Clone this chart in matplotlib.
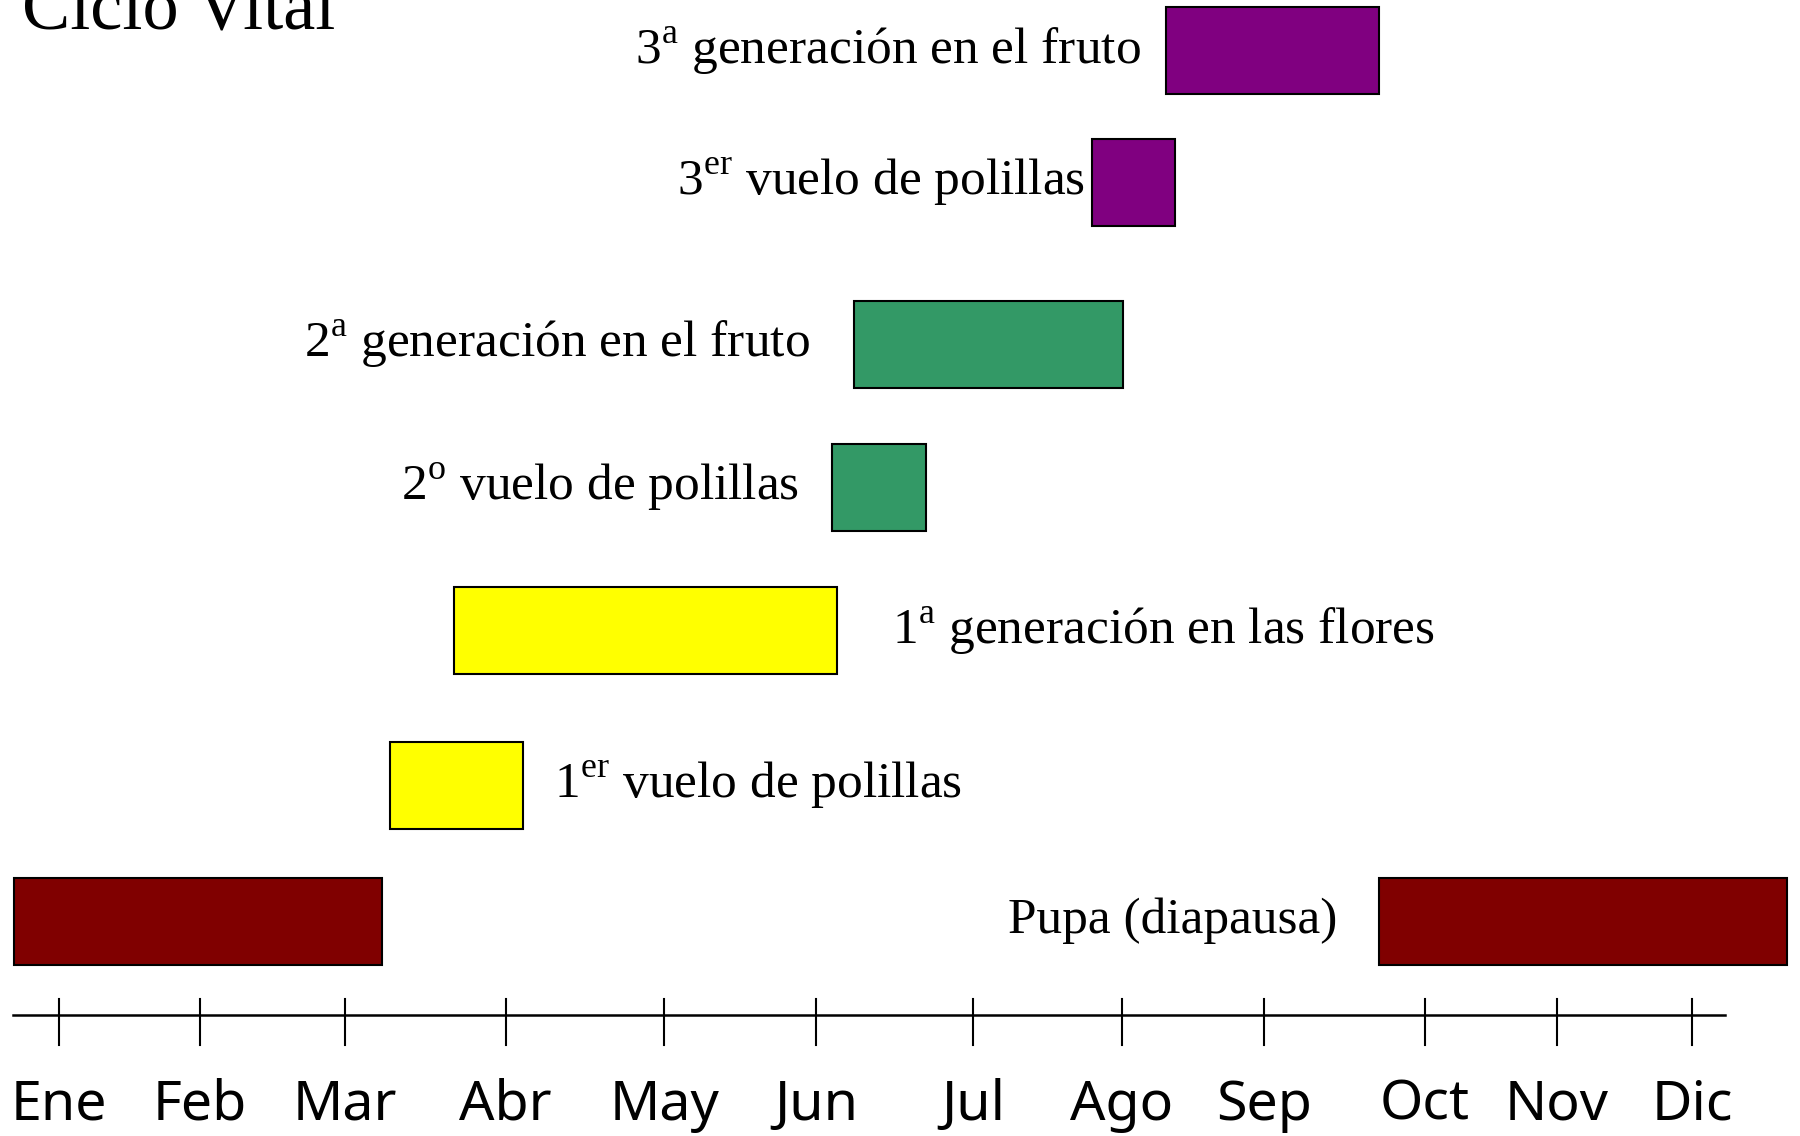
import matplotlib
matplotlib.use('Agg')
import matplotlib.pyplot as plt

# Months on the drawn time axis (position of each tick, in months from Ene)
months = ['Ene', 'Feb', 'Mar', 'Abr', 'May', 'Jun', 'Jul', 'Ago', 'Sep', 'Oct', 'Nov', 'Dic']
month_pos = [0.0, 0.95, 1.93, 3.01, 4.08, 5.10, 6.16, 7.16, 8.12, 9.20, 10.09, 11.0]

# Life-cycle stages (bottom to top), start / end in months
stages = [
    'Pupa (diapausa)',
    r'1$^{\mathrm{er}}$ vuelo de polillas',
    r'1$^{\mathrm{a}}$ generación en las flores',
    r'2$^{\mathrm{o}}$ vuelo de polillas',
    r'2$^{\mathrm{a}}$ generación en el fruto',
    r'3$^{\mathrm{er}}$ vuelo de polillas',
    r'3$^{\mathrm{a}}$ generación en el fruto',
]
stage_start = [-0.30, 2.23, 2.66, 5.21, 5.36, 6.96, 7.46]
stage_end = [2.18, 3.13, 5.24, 5.84, 7.17, 7.52, 8.89]
# pupa also occupies the end of the year
pupa_late = (8.89, 11.64)

colors = ['#800000', '#ffff00', '#ffff00', '#339966', '#339966', '#800080', '#800080']

# layout: vertical place of each row, label side and gap to the bar (px)
row_y = [0, 0.937, 2.0, 2.986, 3.974, 5.09, 5.995]
label_side = ['left', 'right', 'right', 'left', 'left', 'left', 'left']
label_gap = [41, 31, 55, 33, 45, 7, 26]

plt.rcParams['mathtext.fontset'] = 'custom'
plt.rcParams['mathtext.rm'] = 'Liberation Serif'
serif = ['Liberation Serif', 'DejaVu Serif']

fig = plt.figure(figsize=(18, 11.36), dpi=100)
ax = fig.add_axes([0, 0, 1, 1])
ax.set_xlim(-0.394, 11.727)
ax.set_ylim(-1.48, 6.344)
ax.axis('off')

bar_h = 0.6
for i, name in enumerate(stages):
    y = row_y[i]
    ax.barh(y, stage_end[i] - stage_start[i], left=stage_start[i], height=bar_h,
            color=colors[i], edgecolor='black', linewidth=1.5)
    if label_side[i] == 'left':
        # Pupa label sits left of the late-year bar
        x = pupa_late[0] if i == 0 else stage_start[i]
        ax.annotate(name, (x, y), xytext=(-label_gap[i], 0), textcoords='offset pixels',
                    ha='right', va='center', fontsize=37, family=serif)
    else:
        ax.annotate(name, (stage_end[i], y), xytext=(label_gap[i], 0), textcoords='offset pixels',
                    ha='left', va='center', fontsize=37, family=serif)

ax.barh(row_y[0], pupa_late[1] - pupa_late[0], left=pupa_late[0], height=bar_h,
        color=colors[0], edgecolor='black', linewidth=1.5)

# time axis
axis_y = -0.647
ax.plot([-0.309, 11.22], [axis_y, axis_y], color='black', lw=1.8)
for p, m in zip(month_pos, months):
    ax.plot([p, p], [-0.537, -0.854], color='black', lw=1.5)
    ax.text(p, -1.267, m, ha='center', va='center', fontsize=40, family=['Noto Sans', 'DejaVu Sans'])

fig.text(0.0122, 1 - 28 / 1136, 'Ciclo Vital', ha='left', va='baseline',
         fontsize=52, family=serif)

fig.savefig('out.png', dpi=100, facecolor='white')
